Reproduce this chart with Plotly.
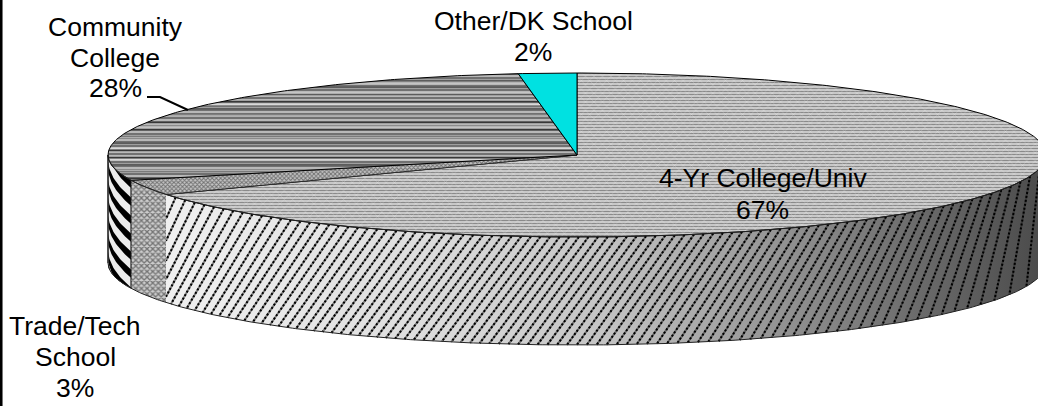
import numpy as np
import plotly.graph_objects as go

# Survey shares, clockwise from twelve o'clock
categories = ["4-Yr College/Univ", "Trade/Tech School", "Community College", "Other/DK School"]
shares = [67, 3, 28, 2]

# Pixel frame of the page and placement of the disc inside it
W, H = 1038, 406
CX, CY, RX, RY = 577.0, 155.0, 469.0, 82.0
DEPTH = 108.0 / RY

# Label lines: text, centre x, centre y in page pixels
label_lines = [
    ("Community", 115, 27), ("College", 115, 58), (f"{shares[2]}%", 115, 88),
    ("Other/DK School", 533, 21), (f"{shares[3]}%", 533, 52),
    ("4-Yr College/Univ", 763, 178), (f"{shares[0]}%", 762, 210),
    ("Trade/Tech", 75, 326), ("School", 75, 357), (f"{shares[1]}%", 75, 388),
]


def rim(theta):
    """Point on the unit rim for a clockwise angle from twelve o'clock (degrees)."""
    t = np.radians(theta)
    return np.sin(t), np.cos(t)


def wedge(a, b):
    n = max(int(abs(b - a)) * 2, 4)
    x, y = rim(np.linspace(a, b, n))
    return np.r_[0, x, 0], np.r_[0, y, 0]


def wall(a, b):
    """Outline of the side wall between two angles, front half only."""
    x, y = rim(np.linspace(a, b, max(int(abs(b - a)) * 2, 4)))
    return np.r_[x, x[::-1], x[0]], np.r_[y, y[::-1] - DEPTH, y[0]]


def area(x, y, **kw):
    return go.Scatter(x=x, y=y, mode="lines", fill="toself", hoverinfo="skip", showlegend=False, **kw)


def stroke(x, y, color="#111111", width=1.0, dash=None):
    return go.Scatter(x=x, y=y, mode="lines", hoverinfo="skip", showlegend=False,
                      line=dict(color=color, width=width, dash=dash))


NO_LINE = dict(width=0)
CLEAR = "rgba(0,0,0,0)"

edges = np.cumsum([0] + shares) * 3.6
a_uni, a_trade, a_comm, a_other = edges[1], edges[2], edges[3], edges[4]

fig = go.Figure()

# Side wall of the four-year slice: shaded base
wx, wy = wall(90, a_uni)
shade = [[0.0, "#f0f0f0"], [0.28, "#dedede"], [0.5, "#c4c4c4"], [0.68, "#989898"], [0.85, "#6c6c6c"], [1.0, "#4a4a4a"]]
fig.add_trace(area(wx, wy, line=NO_LINE,
                   fillgradient=dict(type="horizontal", colorscale=shade,
                                     start=rim(a_uni)[0], stop=1.0)))

# Its diagonal hatch, rising to the right and steepening toward the sides of the wall
x_left = rim(a_uni)[0]
hx, hy = [], []
for x0 in np.arange(x_left, 1.0, 9.6 / RX):
    top_y = -np.sqrt(max(1 - x0 ** 2, 0))
    x1 = x0 - 80.0 / RX * np.sqrt(max(1 - x0 ** 2, 0))
    low_y = -np.sqrt(max(1 - x1 ** 2, 0)) - DEPTH
    if x1 < x_left:
        f = (x0 - x_left) / (x0 - x1)
        x1, low_y = x_left, top_y + f * (low_y - top_y)
    hx += [x0, x1, None]
    hy += [top_y, low_y, None]
fig.add_trace(stroke(hx, hy, color="rgba(40,40,40,0.55)", width=2.0))
fig.add_trace(stroke(hx, hy, color="#000000", width=2.0, dash="2px,2px"))

# Trade/tech wall: fine cross hatch
tx, ty = wall(a_uni, a_trade)
fig.add_trace(area(tx, ty, line=NO_LINE,
                   fillpattern=dict(shape="x", size=4, solidity=0.55, fgcolor="#1c1c1c", bgcolor="#cccccc")))

# Community college wall: broad bands falling toward the front
cx, cy = wall(a_trade, 270)
fig.add_trace(area(cx, cy, line=NO_LINE, fillcolor="#ececec"))
band_t = np.linspace(a_trade, 270, 30)
band_x, band_y = rim(band_t)
period, thick, lean = 18.0 / 108.0, 0.075, 0.007
for k in range(-1, 8):
    lo = k * period + lean * (band_t - a_trade) * -1 + 0.16
    lo_c, hi_c = np.clip(lo, 0, 1), np.clip(lo + thick, 0, 1)
    fig.add_trace(area(np.r_[band_x, band_x[::-1]],
                       np.r_[band_y - lo_c * DEPTH, (band_y - hi_c * DEPTH)[::-1]],
                       line=NO_LINE, fillcolor="#000000"))

# Top face of each slice
ux, uy = wedge(0, a_uni)
fig.add_trace(area(ux, uy, line=NO_LINE,
                   fillpattern=dict(shape="-", size=3, solidity=0.45, fgcolor="#404040", bgcolor="#d4d4d4")))
fig.add_trace(area(ux, uy, line=dict(color="#000000", width=1), fillcolor=CLEAR,
                   fillpattern=dict(shape="x", size=6, solidity=0.14, fgcolor="#f8f8f8", bgcolor=CLEAR)))

px, py = wedge(a_uni, a_trade)
fig.add_trace(area(px, py, line=dict(color="#222222", width=0.8),
                   fillpattern=dict(shape="x", size=3, solidity=0.55, fgcolor="#1e1e1e", bgcolor="#c4c4c4")))

qx, qy = wedge(a_trade, a_comm)
fig.add_trace(area(qx, qy, line=NO_LINE,
                   fillpattern=dict(shape="-", size=4, solidity=0.5, fgcolor="#2a2a2a", bgcolor="#b8b8b8")))
fig.add_trace(area(qx, qy, line=NO_LINE, fillcolor=CLEAR,
                   fillpattern=dict(shape="-", size=7, solidity=0.22, fgcolor="#000000", bgcolor=CLEAR)))
fig.add_trace(area(qx, qy, line=dict(color="#000000", width=1), fillcolor=CLEAR,
                   fillpattern=dict(shape="-", size=11, solidity=0.16, fgcolor="#f8f8f8", bgcolor=CLEAR)))

ox, oy = wedge(a_comm, a_other)
fig.add_trace(area(ox, oy, line=dict(color="#000000", width=1), fillcolor="#00e1e1"))

# Outline of the wall
ex, ey = wall(90, 270)
fig.add_trace(stroke(ex, ey, color="#222222", width=1))
for a in (a_trade, 270):
    rx_, ry_ = rim(a)
    fig.add_trace(stroke([rx_, rx_], [ry_, ry_ - DEPTH], color="#111111", width=1))

# Page pixel to data coordinate helpers
to_x = lambda p: (p - CX) / RX
to_y = lambda p: (CY - p) / RY

# Leader from the community college label to the rim
lead_x, lead_y = [147, 160, 188], [97, 97, 110]
fig.add_trace(stroke([to_x(p) for p in lead_x], [to_y(p) for p in lead_y], color="#000000", width=2))

for text, x, y in label_lines:
    fig.add_annotation(x=to_x(x), y=to_y(y), text=text, showarrow=False, xanchor="center", yanchor="middle",
                       font=dict(family="Liberation Sans, Arial, sans-serif", size=26.5, color="#000000"))

# Rule down the left side of the page
fig.add_shape(type="line", xref="paper", yref="paper", x0=0.001, x1=0.001, y0=0, y1=1,
              line=dict(color="#000000", width=3))

fig.update_layout(
    width=W, height=H, margin=dict(l=0, r=0, t=0, b=0),
    paper_bgcolor="#ffffff", plot_bgcolor="#ffffff", showlegend=False,
    xaxis=dict(visible=False, range=[to_x(0), to_x(W)], fixedrange=True),
    yaxis=dict(visible=False, range=[to_y(H), to_y(0)], fixedrange=True),
)

fig.write_html("out.html", config=dict(displayModeBar=False))
